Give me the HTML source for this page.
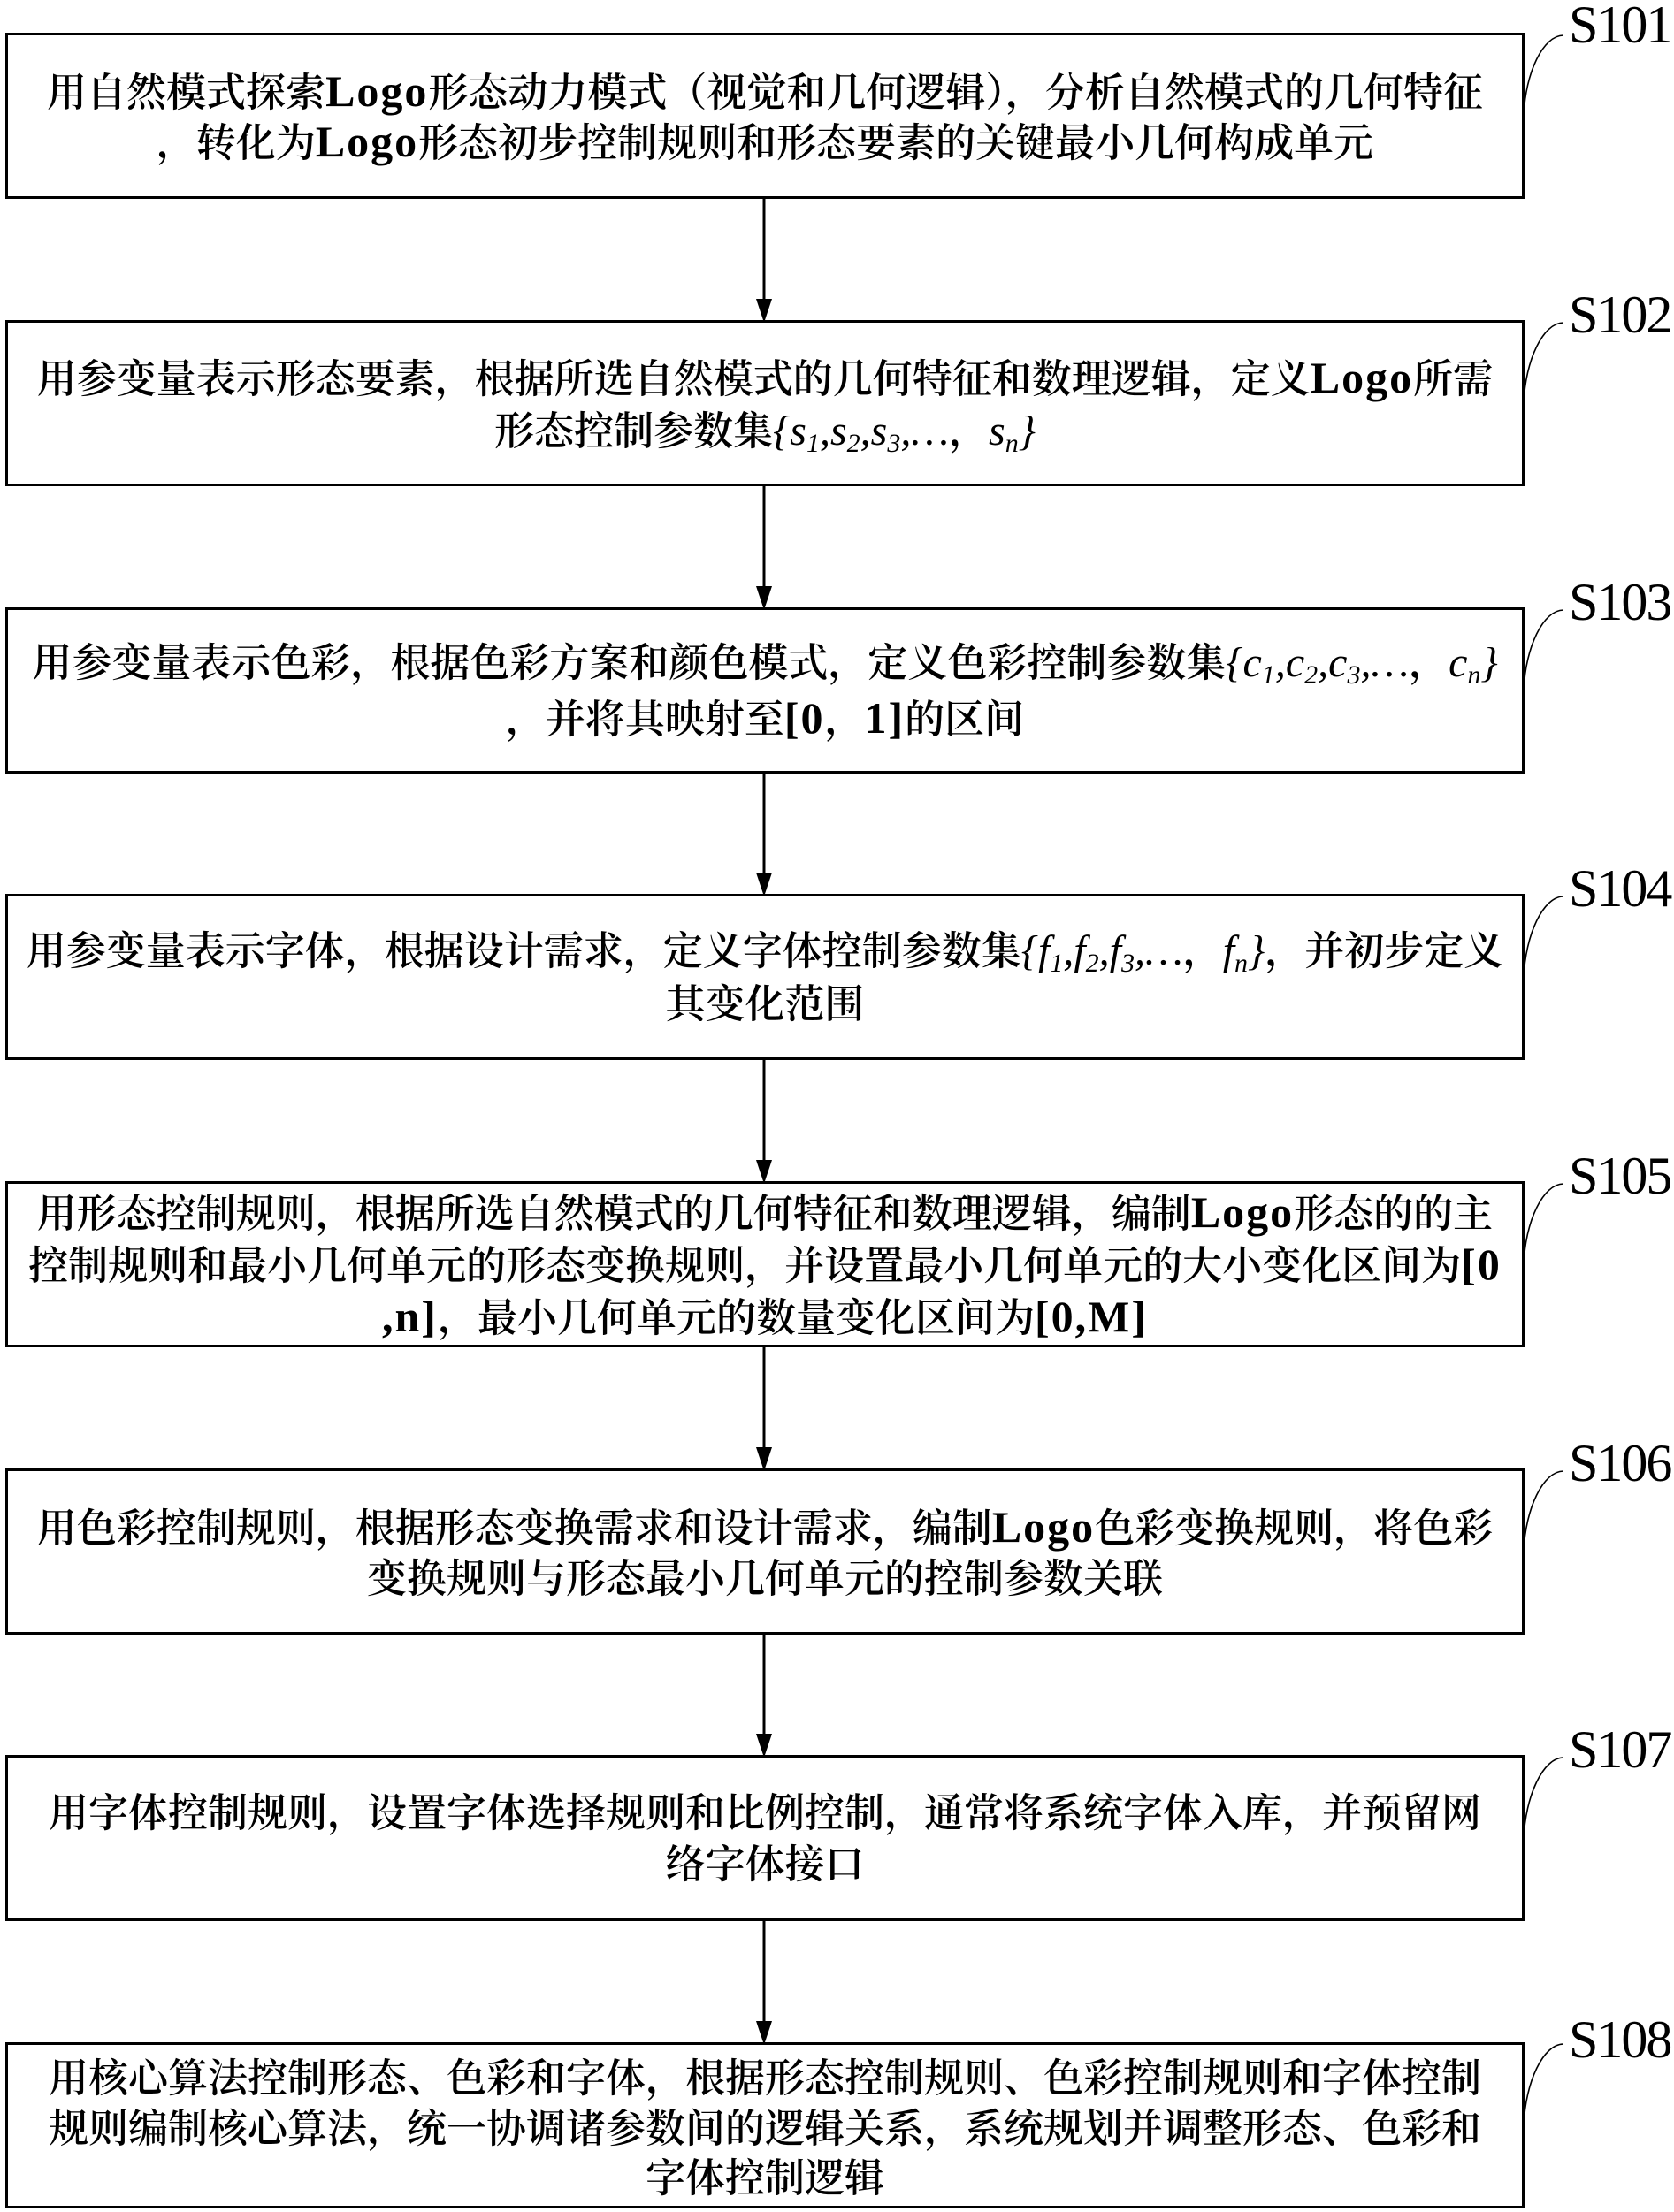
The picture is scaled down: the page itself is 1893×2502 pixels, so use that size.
<!DOCTYPE html>
<html>
<head>
<meta charset="utf-8">
<style>
html,body{margin:0;padding:0;background:#fff;}
body{width:1893px;height:2502px;position:relative;overflow:hidden;}
.box{position:absolute;left:6px;width:1718px;height:188px;box-sizing:border-box;border:3px solid #000;}
.ln{position:absolute;left:6px;width:1718px;height:58px;line-height:58px;text-align:center;white-space:nowrap;
font-family:"Liberation Serif","Noto Serif CJK SC",serif;font-size:45px;font-weight:600;color:#000;}
.l{letter-spacing:2px;font-weight:bold;font-size:50px;}
.m{font-family:"Liberation Serif",serif;font-style:italic;font-weight:normal;font-size:48px;}
.s{font-size:30px;position:relative;top:8px;}
svg{position:absolute;left:0;top:0;}
</style>
</head>
<body>
<div class="box" style="top:37px"></div>
<div class="box" style="top:362px"></div>
<div class="box" style="top:687px"></div>
<div class="box" style="top:1011px"></div>
<div class="box" style="top:1336px"></div>
<div class="box" style="top:1661px"></div>
<div class="box" style="top:1985px"></div>
<div class="box" style="top:2310px"></div>

<svg width="1893" height="2502" viewBox="0 0 1893 2502">
<g stroke="#000" stroke-width="3">
<line x1="864" y1="225" x2="864" y2="338"/>
<line x1="864" y1="549" x2="864" y2="663"/>
<line x1="864" y1="874" x2="864" y2="987"/>
<line x1="864" y1="1199" x2="864" y2="1312"/>
<line x1="864" y1="1523" x2="864" y2="1637"/>
<line x1="864" y1="1848" x2="864" y2="1961"/>
<line x1="864" y1="2173" x2="864" y2="2286"/>
</g>
<g fill="#000">
<polygon points="855,338 873,338 864,365"/>
<polygon points="855,663 873,663 864,690"/>
<polygon points="855,987 873,987 864,1014"/>
<polygon points="855,1312 873,1312 864,1339"/>
<polygon points="855,1637 873,1637 864,1664"/>
<polygon points="855,1961 873,1961 864,1988"/>
<polygon points="855,2286 873,2286 864,2313"/>
</g>
<g fill="none" stroke="#000" stroke-width="1.6">
<path d="M1723 131 C1725 82 1745 40 1768 40"/>
<path d="M1723 456 C1725 407 1745 365 1768 365"/>
<path d="M1723 781 C1725 732 1745 690 1768 690"/>
<path d="M1723 1106 C1725 1057 1745 1014 1768 1014"/>
<path d="M1723 1430 C1725 1381 1745 1339 1768 1339"/>
<path d="M1723 1755 C1725 1706 1745 1664 1768 1664"/>
<path d="M1723 2080 C1725 2031 1745 1988 1768 1988"/>
<path d="M1723 2404 C1725 2355 1745 2312 1768 2312"/>
</g>
<g font-family="Liberation Serif, serif" font-size="60" letter-spacing="-2" fill="#000">
<text x="1774" y="48">S101</text>
<text x="1774" y="376">S102</text>
<text x="1774" y="701">S103</text>
<text x="1774" y="1025">S104</text>
<text x="1774" y="1350">S105</text>
<text x="1774" y="1675">S106</text>
<text x="1774" y="1999">S107</text>
<text x="1774" y="2327">S108</text>
</g>
</svg>

<div class="ln" style="top:74px">用自然模式探索<span class="l">Logo</span>形态动力模式（视觉和几何逻辑），分析自然模式的几何特征</div>
<div class="ln" style="top:131px">，转化为<span class="l">Logo</span>形态初步控制规则和形态要素的关键最小几何构成单元</div>

<div class="ln" style="top:398px">用参变量表示形态要素，根据所选自然模式的几何特征和数理逻辑，定义<span class="l">Logo</span>所需</div>
<div class="ln" style="top:459px">形态控制参数集<span class="m">{s<span class="s">1</span>,s<span class="s">2</span>,s<span class="s">3</span>,…</span>，<span class="m">s<span class="s">n</span>}</span></div>

<div class="ln" style="top:721px">用参变量表示色彩，根据色彩方案和颜色模式，定义色彩控制参数集<span class="m">{c<span class="s">1</span>,c<span class="s">2</span>,c<span class="s">3</span>,…</span>，<span class="m">c<span class="s">n</span>}</span></div>
<div class="ln" style="top:783px">，并将其映射至<span class="l">[0</span>，<span class="l">1]</span>的区间</div>

<div class="ln" style="top:1047px">用参变量表示字体，根据设计需求，定义字体控制参数集<span class="m">{f<span class="s">1</span>,f<span class="s">2</span>,f<span class="s">3</span>,…</span>，<span class="m">f<span class="s">n</span>}</span>，并初步定义</div>
<div class="ln" style="top:1107px">其变化范围</div>

<div class="ln" style="top:1342px">用形态控制规则，根据所选自然模式的几何特征和数理逻辑，编制<span class="l">Logo</span>形态的的主</div>
<div class="ln" style="top:1401px">控制规则和最小几何单元的形态变换规则，并设置最小几何单元的大小变化区间为<span class="l">[0</span></div>
<div class="ln" style="top:1460px"><span class="l">,n]</span>，最小几何单元的数量变化区间为<span class="l">[0,M]</span></div>

<div class="ln" style="top:1698px">用色彩控制规则，根据形态变换需求和设计需求，编制<span class="l">Logo</span>色彩变换规则，将色彩</div>
<div class="ln" style="top:1757px">变换规则与形态最小几何单元的控制参数关联</div>

<div class="ln" style="top:2022px">用字体控制规则，设置字体选择规则和比例控制，通常将系统字体入库，并预留网</div>
<div class="ln" style="top:2080px">络字体接口</div>

<div class="ln" style="top:2322px">用核心算法控制形态、色彩和字体，根据形态控制规则、色彩控制规则和字体控制</div>
<div class="ln" style="top:2379px">规则编制核心算法，统一协调诸参数间的逻辑关系，系统规划并调整形态、色彩和</div>
<div class="ln" style="top:2435px">字体控制逻辑</div>
</body>
</html>
